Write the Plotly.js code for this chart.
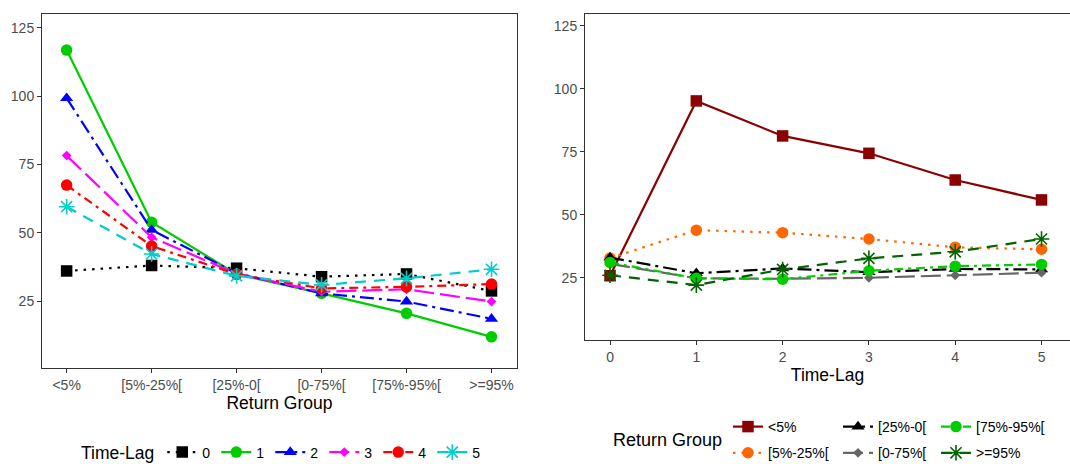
<!DOCTYPE html>
<html>
<head>
<meta charset="utf-8">
<script src="https://cdn.plot.ly/plotly-3.0.1.min.js"></script>
<style>html,body{margin:0;padding:0;background:#fff;}#chart{width:1070px;height:464px;}</style>
</head>
<body>
<div id="chart"></div>
<script>
// ---- data ----
var returnGroups = ['<5%', '[5%-25%[', '[25%-0[', '[0-75%[', '[75%-95%[', '>=95%'];
var timeLags = [0, 1, 2, 3, 4, 5];
var lagNames = ['0', '1', '2', '3', '4', '5'];

// left panel: one series per time-lag, across return groups
var lag0 = [36.0, 38.0, 37.0, 33.9, 34.9, 28.7];
var lag1 = [116.8, 53.8, 34.8, 27.8, 20.5, 11.9];
var lag2 = [99.2, 51.0, 35.2, 27.8, 24.8, 18.5];
var lag3 = [78.2, 48.3, 35.0, 28.4, 29.3, 24.8];
var lag4 = [67.4, 45.1, 34.8, 29.6, 30.2, 31.2];
var lag5 = [59.5, 42.2, 34.2, 30.9, 33.3, 36.6];

// right panel: one series per return group, across time-lags
var grpLt5 = [25.8, 95.2, 81.3, 74.4, 63.8, 55.9];
var grp5to25 = [32.8, 43.9, 42.9, 40.4, 37.1, 36.3];
var grp25to0 = [33.0, 26.8, 28.7, 27.2, 28.5, 28.3];
var grp0to75 = [30.5, 24.8, 24.6, 25.0, 26.0, 27.0];
var grp75to95 = [31.1, 24.8, 24.4, 27.8, 29.6, 30.3];
var grpGe95 = [26.0, 22.1, 28.3, 32.7, 35.3, 40.4];

var yTicks = [25, 50, 75, 100, 125];

// ---- styles ----
var FONT = 'Liberation Sans, Arial, sans-serif';
var LW = 2.2;
var DOT = '2.5px,6px';
var DOTDASH = '14px,5px,3px,5px';
var TWODASH = '9px,5px,3px,5px';
var LONGDASH = '20px,6px';
var DASHED = '11px,8px';

function mk(symbol, size, color, open) {
  var m = {symbol: symbol, size: size, color: color, line: {width: 0, color: color}};
  if (open) m.line = {width: 1.6, color: color};
  return m;
}

var leftSeries = [lag0, lag1, lag2, lag3, lag4, lag5];
var leftStyles = [
  {c: '#000000', d: DOT, m: mk('square', 11.5, '#000000')},
  {c: '#00CD00', d: 'solid', m: mk('circle', 11.5, '#00CD00')},
  {c: '#0000FF', d: DOTDASH, m: mk('triangle-up', 11.5, '#0000FF')},
  {c: '#FF00FF', d: LONGDASH, m: mk('diamond', 7.5, '#FF00FF')},
  {c: '#FF0000', d: TWODASH, m: mk('circle', 11.5, '#FF0000')},
  {c: '#00CDCD', d: DASHED, m: mk('asterisk-open', 13, '#00CDCD', true)}
];

var traces = [];
leftSeries.forEach(function (ys, i) {
  var s = leftStyles[i];
  traces.push({
    type: 'scatter', mode: 'lines+markers',
    x: returnGroups, y: ys, xaxis: 'x', yaxis: 'y',
    name: lagNames[i], legend: 'legend',
    line: {color: s.c, width: LW, dash: s.d},
    marker: s.m, hoverinfo: 'skip'
  });
});

var rightSeries = [grpLt5, grp5to25, grp25to0, grp0to75, grp75to95, grpGe95];
var rightStyles = [
  {c: '#8B0000', d: 'solid', m: mk('square', 11.5, '#8B0000'), lg: 'legend2'},
  {c: '#FF6600', d: DOT, m: mk('circle', 11.5, '#FF6600'), lg: 'legend2'},
  {c: '#000000', d: DOTDASH, m: mk('triangle-up', 11.5, '#000000'), lg: 'legend3'},
  {c: '#666666', d: LONGDASH, m: mk('diamond', 7.5, '#666666'), lg: 'legend3'},
  {c: '#00CD00', d: TWODASH, m: mk('circle', 11.5, '#00CD00'), lg: 'legend4'},
  {c: '#006400', d: DASHED, m: mk('asterisk-open', 13, '#006400', true), lg: 'legend4'}
];
rightSeries.forEach(function (ys, i) {
  var s = rightStyles[i];
  traces.push({
    type: 'scatter', mode: 'lines+markers',
    x: timeLags, y: ys, xaxis: 'x2', yaxis: 'y2',
    name: returnGroups[i], legend: s.lg, legendgroup: 'g' + i,
    line: {color: s.c, width: LW, dash: s.d},
    marker: s.m, hoverinfo: 'skip'
  });
});

var W = 1070, H = 464;
function px(x) { return x / W; }
function py(y) { return (H - y) / H; }

var axisCommon = {
  showline: true, mirror: true, linecolor: '#333333', linewidth: 1,
  showgrid: false, zeroline: false,
  ticks: 'outside', ticklen: 4, tickwidth: 1, tickcolor: '#333333',
  tickfont: {family: FONT, size: 14, color: '#4d4d4d'},
  automargin: false
};

var legendFont = {family: FONT, size: 14, color: '#000'};
function colLegend(xLeft) {
  return {
    orientation: 'v', x: px(xLeft), xanchor: 'left', y: py(411), yanchor: 'top',
    traceorder: 'grouped', tracegroupgap: 5,
    font: legendFont, itemwidth: 30,
    bgcolor: 'rgba(0,0,0,0)', borderwidth: 0
  };
}

var layout = {
  width: W, height: H,
  margin: {l: 0, r: 0, t: 0, b: 0, autoexpand: false},
  paper_bgcolor: '#ffffff', plot_bgcolor: '#ffffff',
  font: {family: FONT, color: '#000000'},
  xaxis: Object.assign({}, axisCommon, {
    domain: [px(42), px(517)], anchor: 'y',
    type: 'category', categoryorder: 'array', categoryarray: returnGroups,
    range: [-0.29, 5.3],
    title: {text: 'Return Group', font: {family: FONT, size: 17.5, color: '#000'}, standoff: 4}
  }),
  yaxis: Object.assign({}, axisCommon, {
    domain: [py(368), py(14)], anchor: 'x',
    range: [0.5, 130], tickvals: yTicks
  }),
  xaxis2: Object.assign({}, axisCommon, {
    domain: [px(585), 1], anchor: 'y2',
    range: [-0.29, 5.33], tickvals: timeLags,
    title: {text: 'Time-Lag', font: {family: FONT, size: 17.5, color: '#000'}, standoff: 4}
  }),
  yaxis2: Object.assign({}, axisCommon, {
    domain: [py(340), py(14)], anchor: 'x2', mirror: false,
    range: [0.3, 129.7], tickvals: yTicks
  }),
  legend: {
    orientation: 'h', x: px(79), xanchor: 'left', y: py(453), yanchor: 'middle',
    title: {text: 'Time-Lag', side: 'left', font: {family: FONT, size: 17.5, color: '#000'}},
    font: legendFont,
    itemwidth: 30, entrywidth: 9, entrywidthmode: 'pixels',
    bgcolor: 'rgba(0,0,0,0)', borderwidth: 0
  },
  legend2: colLegend(728),
  legend3: colLegend(838),
  legend4: colLegend(936),
  annotations: [{
    text: 'Return Group', xref: 'paper', yref: 'paper',
    x: px(611), xanchor: 'left', y: py(440), yanchor: 'middle',
    showarrow: false, font: {family: FONT, size: 18, color: '#000'}
  }],
  showlegend: true
};

Plotly.newPlot('chart', traces, layout, {staticPlot: true, displayModeBar: false});
</script>
</body>
</html>
